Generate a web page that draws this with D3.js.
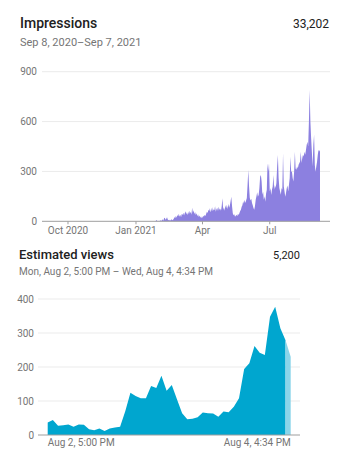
<!DOCTYPE html>
<html lang="en">
<head>
<meta charset="UTF-8">
<title>Impressions / Estimated views</title>
<script src="https://d3js.org/d3.v7.min.js"></script>
<style>
    body { margin: 0; background: #fff; overflow: hidden; }
    text { font-family: Roboto, "Noto Sans", sans-serif; }
    .title { font-weight: 500; fill: #212121; }
    .sub { fill: #757575; }
    .total { fill: #212121; }
    .tick-label { font-size: 10px; fill: #757575; }
    .grid { stroke: #ebebeb; stroke-width: 1; }
    .base { stroke: #9e9e9e; stroke-width: 1; }
</style>
</head>
<body>
<svg id="chart" width="351" height="450"></svg>
<script>
// daily impressions, Sep 8 2020 .. Sep 7 2021
const impressions = [
    0,0,0,0,0,0,0,0,0,0,0,0,0,0,0,0,0,0,0,0,
    0,0,0,0,0,0,0,0,0,0,0,0,0,0,0,0,0,0,0,0,
    0,0,0,0,0,0,0,0,0,0,0,0,0,0,0,0,0,0,0,0,
    0,0,0,0,0,0,0,0,0,0,0,0,0,0,0,0,0,0,0,0,
    0,0,0,0,0,0,0,0,0,0,0,0,0,0,0,0,0,0,0,0,
    0,0,0,0,0,0,0,0,0,0,0,0,0,0,0,0,0,0,0,0,
    0,0,0,0,0,0,0,0,0,0,0,0,0,0,0,0,0,0,0,0,
    0,
    0,3,8,2,0,4,2,6,3,5,12,4,18,22,9,15,24,11,7,10,4,8,12,6,9,14,26,18,34,22,38,30,45,28,
    40,25,46,38,52,35,48,60,42,55,38,50,64,45,58,40,82,52,66,44,56,38,48,30,42,26,35,22,30,18,
    24,34,28,40,32,45,58,50,70,62,78,55,68,84,60,72,66,90,58,74,80,62,88,70,76,64,
    92,138,70,84,64,96,78,100,72,106,82,95,120,148,90,48,36,42,28,34,40,30,46,38,50,62,70,88,
    96,120,105,130,110,125,140,220,308,210,140,125,135,110,96,80,70,92,130,150,175,148,
    160,200,268,278,240,160,178,130,150,118,
    165,190,349,300,349,180,200,158,190,210,
    278,190,218,200,230,330,399,260,200,180,
    160,200,190,409,210,180,148,170,200,215,
    180,220,260,389,298,300,260,240,300,419,
    318,310,330,318,340,349,360,419,350,380,
    400,390,419,400,429,460,479,450,599,790,
    600,500,419,329,460,520,339,298,330,359,
    400,429,420,430
];
const impTicks = [0, 300, 600, 900];
const impDateTicks = [new Date(2020, 9, 1), new Date(2021, 0, 1), new Date(2021, 3, 1), new Date(2021, 6, 1)];
const impDateLabels = ["Oct 2020", "Jan 2021", "Apr", "Jul"];

// hourly estimated views, Aug 2 5:00 PM .. Aug 4 4:34 PM
const views = [
    37,44,27,29,31,24,31,30,17,14,19,12,19,22,24,70,
    124,115,108,108,144,138,174,130,147,105,64,46,48,52,66,64,
    63,54,69,67,83,108,194,211,262,242,235,348,377,314,279,230
];
const viewTicks = [0, 100, 200, 300, 400];
const viewLabels = ["Aug 2, 5:00 PM", "Aug 4, 4:34 PM"];

const svg = d3.select("#chart");

// ---------- top: impressions ----------
const start = new Date(2020, 8, 8);
const impData = impressions.map((v, i) => ({ date: d3.timeDay.offset(start, i), value: v }));

const xTop = d3.scaleTime()
    .domain([start, new Date(2021, 8, 7)])
    .range([51, 320]);
const yTop = d3.scaleLinear().domain([0, 900]).range([221.3, 71.7]);

svg.append("text").attr("class", "title").attr("x", 20).attr("y", 28.3)
    .style("font-size", "14px").text("Impressions");
svg.append("text").attr("class", "total").attr("x", 329).attr("y", 28.3)
    .attr("text-anchor", "end").style("font-size", "12px").text("33,202");
svg.append("text").attr("class", "sub").attr("x", 20).attr("y", 46)
    .style("font-size", "11px").text("Sep 8, 2020\u2013Sep 7, 2021");

svg.append("g").selectAll("line")
    .data(impTicks.filter(d => d > 0))
    .join("line")
    .attr("class", "grid")
    .attr("x1", 42).attr("x2", 330)
    .attr("y1", d => yTop(d)).attr("y2", d => yTop(d));

svg.append("g").selectAll("text")
    .data(impTicks)
    .join("text")
    .attr("class", "tick-label")
    .attr("x", 37).attr("y", d => yTop(d)).attr("dy", "0.35em")
    .attr("text-anchor", "end")
    .text(d => d);

const areaTop = d3.area()
    .x(d => xTop(d.date))
    .y0(yTop(0))
    .y1(d => yTop(d.value));

svg.append("path")
    .datum(impData)
    .attr("fill", "#8c80e0")
    .attr("d", areaTop);

svg.append("line").attr("class", "base")
    .attr("x1", 42).attr("x2", 330)
    .attr("y1", yTop(0)).attr("y2", yTop(0));

svg.append("g").selectAll("line")
    .data(impDateTicks)
    .join("line")
    .attr("class", "base")
    .attr("x1", d => xTop(d)).attr("x2", d => xTop(d))
    .attr("y1", yTop(0)).attr("y2", yTop(0) + 3);

svg.append("g").selectAll("text")
    .data(impDateTicks)
    .join("text")
    .attr("class", "tick-label")
    .attr("x", d => xTop(d)).attr("y", 233.5)
    .attr("text-anchor", "middle")
    .text((d, i) => impDateLabels[i]);

// ---------- bottom: estimated views ----------
const xBot = d3.scaleLinear().domain([0, views.length - 1]).range([47.7, 290.7]);
const yBot = d3.scaleLinear().domain([0, 400]).range([435, 299]);

svg.append("text").attr("class", "title").attr("x", 19).attr("y", 259)
    .style("font-size", "13px").text("Estimated views");
svg.append("text").attr("class", "total").attr("x", 300).attr("y", 259)
    .attr("text-anchor", "end").style("font-size", "11px").text("5,200");
svg.append("text").attr("class", "sub").attr("x", 19).attr("y", 275)
    .style("font-size", "10px").text("Mon, Aug 2, 5:00 PM \u2013 Wed, Aug 4, 4:34 PM");

svg.append("g").selectAll("line")
    .data(viewTicks.filter(d => d > 0))
    .join("line")
    .attr("class", "grid")
    .attr("x1", 38).attr("x2", 300)
    .attr("y1", d => yBot(d)).attr("y2", d => yBot(d));

svg.append("g").selectAll("text")
    .data(viewTicks)
    .join("text")
    .attr("class", "tick-label")
    .attr("x", 34).attr("y", d => yBot(d)).attr("dy", "0.35em")
    .attr("text-anchor", "end")
    .text(d => d);

const areaBot = d3.area()
    .x((d, i) => xBot(d.i))
    .y0(yBot(0))
    .y1(d => yBot(d.v));

const viewData = views.map((v, i) => ({ i: i, v: v }));
const last = viewData.length - 1;

svg.append("path")
    .datum(viewData.slice(0, last))
    .attr("fill", "#00a6cf")
    .attr("d", areaBot);

// partial last hour drawn lighter
svg.append("path")
    .datum(viewData.slice(last - 1))
    .attr("fill", "#8ad5ea")
    .attr("d", areaBot);

svg.append("line").attr("class", "base")
    .attr("x1", 38).attr("x2", 300)
    .attr("y1", yBot(0)).attr("y2", yBot(0));

svg.append("text").attr("class", "tick-label")
    .attr("x", xBot(0)).attr("y", 445.5)
    .text(viewLabels[0]);
svg.append("text").attr("class", "tick-label")
    .attr("x", xBot(last)).attr("y", 445.5)
    .attr("text-anchor", "end")
    .text(viewLabels[1]);
</script>
</body>
</html>
